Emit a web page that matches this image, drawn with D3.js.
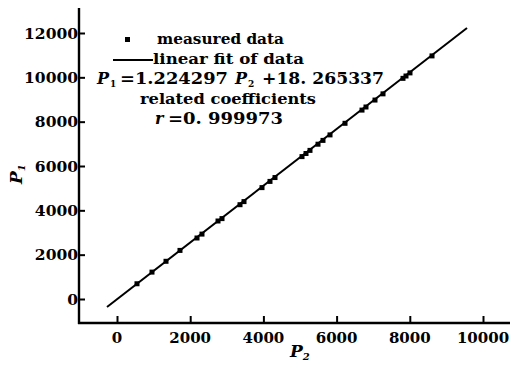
<!DOCTYPE html>
<html><head><meta charset="utf-8">
<script src="https://cdn.jsdelivr.net/npm/d3@7"></script>
<style>
body{margin:0;background:#fff;}
text{font-family:"DejaVu Serif",serif;fill:#000;}
</style></head>
<body><svg id="c" width="512" height="370"></svg>
<script>
const p2 = [546, 956, 1339, 1721, 2186, 2322, 2760, 2869, 3361, 3470, 3962, 4180, 4317, 5055, 5164, 5273, 5492, 5628, 5820, 6230, 6694, 6803, 7049, 7268, 7814, 7896, 8005, 8607];
const p1 = [688, 1213, 1701, 2192, 2752, 2928, 3519, 3627, 4254, 4394, 5025, 5305, 5479, 6424, 6564, 6704, 6983, 7155, 7403, 7926, 8522, 8662, 8975, 9255, 9954, 10060, 10200, 10967];
const fitP2 = [-273, 9563];
const fitP1 = [-361, 12225];
const xTicks = [0, 2000, 4000, 6000, 8000, 10000];
const yTicks = [0, 2000, 4000, 6000, 8000, 10000, 12000];

const svg = d3.select("#c");
const x = d3.scaleLinear().domain([0, 10000]).range([117, 483]);
const y = d3.scaleLinear().domain([0, 12000]).range([299, 33]);
const ax0 = 79, ay0 = 323;

svg.append("line").attr("x1", ax0).attr("x2", ax0).attr("y1", 8).attr("y2", ay0 + 1)
  .attr("stroke", "#000").attr("stroke-width", 2.4);
svg.append("line").attr("x1", ax0 - 1).attr("x2", 510).attr("y1", ay0).attr("y2", ay0)
  .attr("stroke", "#000").attr("stroke-width", 2.4);

const gy = svg.append("g").attr("transform", `translate(${ax0},0)`)
  .call(d3.axisRight(y).tickValues(yTicks).tickSize(6).tickFormat(() => ""));
gy.select(".domain").remove();
gy.selectAll("line").attr("stroke-width", 2);
const gx = svg.append("g").attr("transform", `translate(0,${ay0})`)
  .call(d3.axisTop(x).tickValues(xTicks).tickSize(7).tickFormat(() => ""));
gx.select(".domain").remove();
gx.selectAll("line").attr("stroke-width", 2);

svg.selectAll(".ylab").data(yTicks).enter().append("text")
  .attr("x", ax0 - 1).attr("y", d => y(d)).attr("dy", "0.36em")
  .attr("text-anchor", "end").attr("font-size", 15.5).attr("font-weight", "bold").text(d => d);
svg.selectAll(".xlab").data(xTicks).enter().append("text")
  .attr("x", d => x(d)).attr("y", 343)
  .attr("text-anchor", "middle").attr("font-size", 15).attr("font-weight", "bold").text(d => d);

const xt = svg.append("text").attr("x", 290).attr("y", 357).attr("font-size", 17)
  .attr("font-weight", "bold").attr("font-style", "italic");
xt.append("tspan").text("P");
xt.append("tspan").attr("font-size", 10).attr("dy", 3).text("2");
const yt = svg.append("text").attr("transform", "translate(22,184) rotate(-90)")
  .attr("font-size", 17).attr("font-weight", "bold").attr("font-style", "italic");
yt.append("tspan").text("P");
yt.append("tspan").attr("font-size", 10).attr("dy", 3).text("1");

svg.append("line")
  .attr("x1", x(fitP2[0])).attr("y1", y(fitP1[0]))
  .attr("x2", x(fitP2[1])).attr("y2", y(fitP1[1]))
  .attr("stroke", "#000").attr("stroke-width", 2);

const pts = p2.map((v, i) => [v, p1[i]]);
svg.selectAll(".pt").data(pts).enter().append("rect")
  .attr("x", d => x(d[0]) - 2.5).attr("y", d => y(d[1]) - 2.5)
  .attr("width", 5).attr("height", 5).attr("fill", "#000");

// legend
const lg = svg.append("g").attr("font-size", 15).attr("font-weight", "bold");
lg.append("rect").attr("x", 125).attr("y", 37).attr("width", 5).attr("height", 5).attr("fill", "#000");
lg.append("text").attr("x", 157).attr("y", 44).attr("textLength", 127).attr("lengthAdjust", "spacingAndGlyphs").text("measured data");
lg.append("line").attr("x1", 113).attr("x2", 153).attr("y1", 60).attr("y2", 60)
  .attr("stroke", "#000").attr("stroke-width", 2);
lg.append("text").attr("x", 153).attr("y", 64).attr("textLength", 151).attr("lengthAdjust", "spacingAndGlyphs").text("linear fit of data");
lg.append("text").attr("x", 97).attr("y", 84).attr("font-style", "italic").attr("font-size", 16).text("P");
lg.append("text").attr("x", 110).attr("y", 87).attr("font-size", 9).text("1");
lg.append("text").attr("x", 120).attr("y", 84).attr("font-size", 16).attr("textLength", 108).attr("lengthAdjust", "spacingAndGlyphs").text("=1.224297");
lg.append("text").attr("x", 235).attr("y", 84).attr("font-style", "italic").attr("font-size", 16).text("P");
lg.append("text").attr("x", 248).attr("y", 87).attr("font-size", 9).text("2");
lg.append("text").attr("x", 262).attr("y", 84).attr("font-size", 16).attr("textLength", 122).attr("lengthAdjust", "spacingAndGlyphs").text("+18. 265337");
lg.append("text").attr("x", 140).attr("y", 104).attr("textLength", 176).attr("lengthAdjust", "spacingAndGlyphs").text("related coefficients");
lg.append("text").attr("x", 155).attr("y", 124).attr("font-style", "italic").attr("font-size", 16).text("r");
lg.append("text").attr("x", 168).attr("y", 124).attr("font-size", 16).attr("textLength", 115).attr("lengthAdjust", "spacingAndGlyphs").text("=0. 999973");
</script></body></html>
